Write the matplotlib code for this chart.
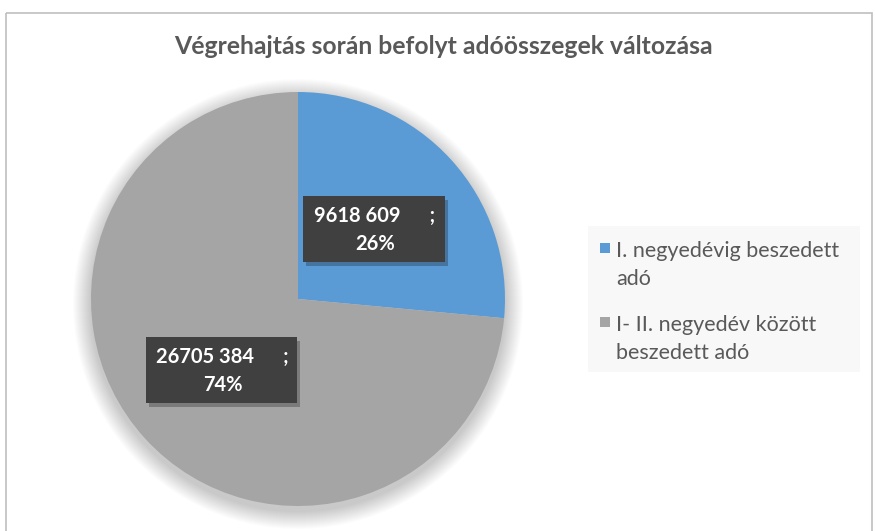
import matplotlib as mpl
mpl.use('Agg')
import matplotlib.pyplot as plt
from matplotlib.patches import Rectangle, Circle

# data ########################################

title = 'Végrehajtás során befolyt adóösszegek változása'
categories = ['I. negyedévig beszedett\nadó', 'I- II. negyedév között\nbeszedett adó']
values = [9618609, 26705384]
colors = ['#5B9BD5', '#A5A5A5']

plt.rcParams['font.family'] = ['Lato', 'DejaVu Sans']
plt.rcParams['hatch.color'] = '#5a5a5a'
plt.rcParams['hatch.linewidth'] = 1.2

W, H = 875, 531
fig = plt.figure(figsize=(W / 100, H / 100), dpi=100)

def pixel_axes():
    a = fig.add_axes([0, 0, 1, 1])
    a.set_xlim(0, W)
    a.set_ylim(H, 0)
    a.axis('off')
    a.patch.set_alpha(0)
    return a

ax = pixel_axes()

# chart border
ax.add_patch(Rectangle((6, 13), 866, 530, fill=False, ec='#BFBFBF', lw=1.2))

ax.text(443, 47, title, ha='center', va='center', fontsize=17.8, fontweight='bold', color='#595959')

# pie ##########################################

cx, cy, r = 298, 299, 207
# soft shadow
for i in range(18):
    ax.add_patch(Circle((cx, cy + 5), r + 18 - i, color='black', alpha=0.013, lw=0))

pax = fig.add_axes([(cx - r) / W, 1 - (cy + r) / H, 2 * r / W, 2 * r / H])
pax.pie(values, colors=colors, startangle=90, counterclock=False,
        wedgeprops=dict(linewidth=0))
pax.set_aspect('auto')
pax.set_xlim(-1, 1)
pax.set_ylim(-1, 1)
pax.axis('off')

# data labels ##################################

lax = pixel_axes()
total = sum(values)
boxes = [(303, 196, 142, 66), (146, 337, 151, 66)]
for v, (bx, by, bw, bh) in zip(values, boxes):
    lax.add_patch(Rectangle((bx + 3, by + 4), bw, bh, fc='black', alpha=0.25, lw=0))
    lax.add_patch(Rectangle((bx, by), bw, bh, fc='#404040', ec='#404040', hatch='..', lw=0))
    s = str(v)
    num = s[:-3] + ' ' + s[-3:]
    pct = '%d%%' % round(100 * v / total)
    lax.text(bx + bw / 2 + 1, by + bh / 2 + 1, num + '      ;\n' + pct, ha='center', va='center',
             fontsize=14.5, fontweight='bold', color='white', linespacing=1.45)

# legend #######################################

lax.add_patch(Rectangle((588, 226), 272, 146, fc='#F8F8F8', lw=0, zorder=0))
entry_y = [248, 322]
for lab, c, y in zip(categories, colors, entry_y):
    lax.add_patch(Rectangle((600, y - 5), 10, 10, fc=c, lw=0))
    lax.text(616, y - 7, lab, ha='left', va='top', fontsize=15.5, color='#595959',
             linespacing=1.5)

fig.savefig('out.png', dpi=100)
